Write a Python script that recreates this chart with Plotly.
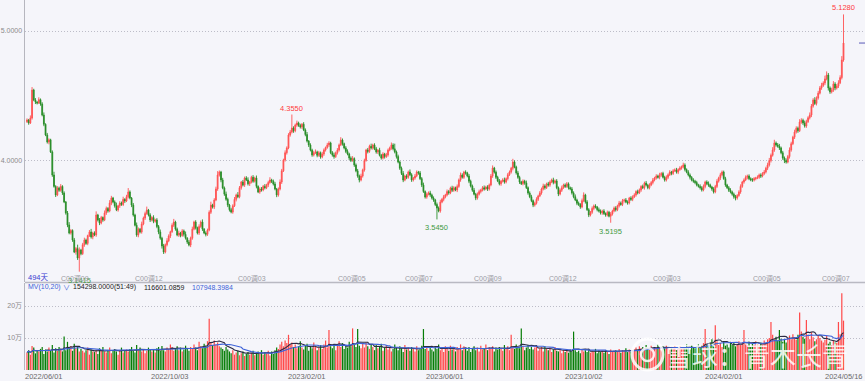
import plotly.graph_objects as go
import pandas as pd

# ---------------- data ----------------
first_open = 4.300
close = [
    4.313,4.290,4.328,4.544,4.467,4.452,4.444,4.470,4.436,4.351,
    4.280,4.197,4.143,4.160,4.066,3.888,3.800,3.734,3.788,3.770,
    3.800,3.749,3.680,3.595,3.502,3.440,3.460,3.386,3.293,3.320,
    3.247,3.309,3.280,3.350,3.386,3.360,3.420,3.448,3.410,3.440,
    3.425,3.579,3.540,3.517,3.560,3.540,3.595,3.630,3.610,3.672,
    3.710,3.680,3.650,3.618,3.650,3.672,3.660,3.700,3.687,3.720,
    3.757,3.710,3.656,3.579,3.500,3.425,3.470,3.448,3.510,3.556,
    3.590,3.618,3.580,3.541,3.560,3.530,3.541,3.490,3.448,3.400,
    3.340,3.293,3.350,3.380,3.417,3.450,3.500,3.525,3.470,3.425,
    3.440,3.420,3.456,3.430,3.400,3.370,3.347,3.400,3.470,3.525,
    3.480,3.440,3.490,3.525,3.470,3.440,3.430,3.463,3.600,3.656,
    3.640,3.695,3.780,3.888,3.911,3.850,3.788,3.740,3.700,3.656,
    3.620,3.602,3.650,3.700,3.734,3.720,3.790,3.834,3.810,3.865,
    3.850,3.820,3.834,3.870,3.840,3.865,3.800,3.757,3.780,3.772,
    3.800,3.790,3.811,3.830,3.849,3.840,3.819,3.780,3.734,3.780,
    3.834,3.920,4.004,4.060,4.097,4.197,4.220,4.251,4.230,4.274,
    4.290,4.270,4.259,4.280,4.236,4.200,4.150,4.120,4.080,4.043,
    4.060,4.066,4.040,4.060,4.027,4.050,4.081,4.100,4.120,4.135,
    4.060,4.043,4.030,4.060,4.081,4.120,4.158,4.130,4.097,4.070,
    4.050,4.019,4.000,4.015,3.965,3.920,3.880,3.849,3.880,3.927,
    4.000,4.081,4.070,4.110,4.097,4.120,4.090,4.066,4.080,4.040,
    4.019,4.050,4.030,4.043,4.080,4.097,4.120,4.090,4.066,4.030,
    3.988,3.940,3.900,3.849,3.880,3.870,3.911,3.890,3.850,3.865,
    3.880,3.910,3.904,3.860,3.811,3.760,3.718,3.740,3.750,3.734,
    3.710,3.695,3.660,3.633,3.610,3.679,3.700,3.720,3.734,3.760,
    3.750,3.788,3.770,3.790,3.772,3.800,3.850,3.888,3.870,3.910,
    3.904,3.880,3.840,3.803,3.770,3.740,3.710,3.740,3.760,3.772,
    3.790,3.780,3.795,3.780,3.811,3.880,3.942,3.910,3.870,3.842,
    3.820,3.840,3.850,3.834,3.860,3.890,3.911,3.940,3.988,3.950,
    3.904,3.870,3.834,3.820,3.840,3.827,3.790,3.749,3.720,3.690,
    3.656,3.670,3.700,3.726,3.750,3.780,3.803,3.790,3.820,3.810,
    3.834,3.850,3.830,3.842,3.790,3.741,3.770,3.790,3.811,3.800,
    3.820,3.790,3.780,3.750,3.720,3.695,3.670,3.660,3.641,3.690,
    3.734,3.680,3.620,3.579,3.600,3.630,3.649,3.640,3.620,3.610,
    3.595,3.610,3.590,3.579,3.600,3.570,3.587,3.610,3.633,3.620,
    3.650,3.672,3.660,3.690,3.695,3.680,3.672,3.710,3.700,3.720,
    3.734,3.760,3.750,3.772,3.800,3.790,3.826,3.810,3.790,3.811,
    3.830,3.850,3.865,3.880,3.870,3.888,3.900,3.870,3.849,3.870,
    3.890,3.911,3.900,3.920,3.927,3.910,3.930,3.942,3.950,3.965,
    3.930,3.910,3.888,3.870,3.849,3.840,3.830,3.811,3.800,3.790,
    3.772,3.800,3.834,3.820,3.810,3.795,3.780,3.757,3.800,3.840,
    3.865,3.890,3.911,3.860,3.811,3.790,3.770,3.757,3.740,3.720,
    3.710,3.730,3.757,3.800,3.834,3.850,3.870,3.880,3.860,3.850,
    3.849,3.860,3.865,3.870,3.888,3.880,3.900,3.911,3.940,3.965,
    4.000,4.040,4.081,4.135,4.120,4.110,4.097,4.060,4.019,4.000,
    3.988,4.030,4.081,4.130,4.180,4.220,4.250,4.230,4.297,4.310,
    4.290,4.266,4.300,4.330,4.351,4.420,4.467,4.440,4.483,4.520,
    4.560,4.580,4.598,4.630,4.660,4.560,4.530,4.544,4.591,4.560,
    4.575,4.600,4.640,4.776,4.907,
]
# upper / lower shadow lengths, in thousandths of price
wick_up = [
    12,8,20,23,10,15,6,18,9,14,20,7,16,11,8,12,25,9,14,10,
    18,9,13,7,15,22,10,8,16,12,30,20,9,14,18,11,7,15,24,10,
    13,28,9,16,12,8,19,14,10,22,17,9,12,25,8,14,11,20,9,15,
    30,12,8,16,10,21,13,9,18,11,15,26,8,13,10,17,9,14,12,19,
    11,16,9,20,13,8,15,24,10,12,18,9,14,11,22,8,16,12,19,10,
    14,9,17,12,20,8,13,11,15,26,10,14,18,30,12,9,16,11,20,13,
    9,15,12,18,10,22,13,8,16,11,14,20,9,12,17,10,19,8,13,15,
    11,18,9,14,22,10,13,16,8,12,20,15,10,18,12,14,16,104,13,11,
    18,10,14,9,16,12,20,8,13,11,15,19,10,14,9,17,12,8,16,14,
    10,13,18,9,15,11,22,12,8,14,16,10,13,19,9,12,15,11,18,10,
    14,9,16,12,20,10,13,15,8,18,11,14,9,16,12,10,19,13,40,11,
    15,10,13,18,9,14,11,20,12,8,16,13,10,15,12,18,9,14,11,16,
    10,13,9,15,12,18,11,14,9,16,13,10,17,12,8,15,11,19,13,10,
    14,9,16,12,11,18,10,13,15,9,12,17,10,14,11,16,20,9,13,12,
    15,10,13,18,9,14,12,11,25,13,10,16,12,9,14,11,18,10,13,15,
    9,12,16,10,14,11,18,13,9,15,12,10,17,11,14,9,13,16,10,12,
    14,11,9,15,12,18,10,13,11,16,20,9,14,12,10,15,11,13,9,16,
    12,10,14,9,13,11,15,10,12,14,9,16,11,13,10,15,12,9,14,11,
    13,10,15,12,9,14,11,16,10,13,12,15,9,14,11,17,10,13,12,15,
    11,14,9,13,12,16,10,14,11,18,13,9,15,12,10,14,11,13,9,16,
    12,15,10,13,18,11,9,14,12,16,10,15,12,11,14,9,13,16,10,12,
    14,10,13,16,9,12,15,11,13,10,14,12,9,15,11,13,10,16,12,18,
    20,14,22,25,12,15,18,10,14,12,16,13,20,15,11,18,14,12,22,16,
    13,18,15,12,20,16,14,22,12,18,15,20,14,25,28,16,12,18,22,14,
    16,20,18,30,221,
]
wick_dn = [
    10,14,8,12,9,16,11,7,13,10,15,9,12,18,8,14,10,16,9,12,
    11,15,9,13,17,10,12,14,8,20,15,105.5,12,9,16,11,14,10,13,18,
    9,14,11,16,10,13,8,15,12,10,17,11,14,9,13,16,10,12,15,8,
    13,10,16,12,9,14,18,11,13,10,15,9,12,16,11,14,10,13,17,12,
    20,15,10,13,11,16,9,14,12,10,15,13,9,17,11,14,10,16,12,9,
    13,11,15,10,14,9,16,12,10,13,11,15,9,14,12,18,10,13,11,16,
    14,10,13,9,16,11,12,15,10,14,9,13,17,11,12,10,15,9,14,12,
    10,13,11,16,9,14,12,10,17,13,11,15,9,12,14,10,13,11,16,12,
    14,10,12,15,9,13,11,16,10,14,12,9,15,11,13,10,14,12,9,15,
    11,13,16,10,14,12,9,15,11,13,10,16,12,9,14,11,13,18,10,12,
    13,9,15,11,12,14,10,13,16,9,12,11,15,10,13,9,14,12,11,15,
    10,13,12,16,9,14,11,10,15,12,13,9,14,11,16,10,12,13,9,15,
    11,14,12,88,10,13,9,15,12,11,14,10,13,12,9,16,11,14,10,12,
    13,10,15,11,12,9,16,12,10,14,11,13,9,15,12,10,14,11,13,9,
    12,15,10,13,11,14,9,12,16,10,13,11,15,9,12,14,10,13,11,12,
    16,12,10,13,9,14,11,15,10,12,13,9,14,11,12,16,10,13,9,12,
    11,14,10,13,12,9,15,11,14,10,12,13,9,16,11,12,14,10,13,11,
    12,14,10,13,11,9,50.5,12,10,14,11,13,9,12,15,10,13,11,12,14,
    10,13,12,9,14,11,15,10,12,13,9,14,11,12,10,15,13,9,12,11,
    13,10,14,12,9,11,15,10,13,12,14,9,11,16,10,12,13,11,9,14,
    12,10,15,11,13,9,14,12,10,13,11,16,12,9,14,10,13,11,12,15,
    18,12,10,14,11,13,9,15,12,10,14,11,13,9,12,15,10,13,11,14,
    12,15,10,14,13,11,16,12,14,20,12,10,15,13,11,14,12,16,10,13,
    15,12,14,10,13,16,12,11,15,13,10,14,12,16,11,20,15,12,14,18,
    12,15,10,14,13,
]
# volume, in thousands of lots
volume_k = [
    55,62,48,75,70,52,60,58,66,72,50,64,58,70,62,78,55,68,60,72,
    65,58,105,62,88,70,75,60,82,68,72,58,66,60,55,62,70,48,64,58,
    56,62,50,68,60,72,58,55,63,70,52,60,66,58,48,62,70,55,60,64,
    58,66,72,60,55,78,62,70,58,64,52,60,70,66,58,62,55,68,72,60,
    75,62,58,70,66,80,72,60,68,74,62,70,58,64,76,68,60,72,66,80,
    70,62,88,74,68,82,76,90,160,85,78,92,80,86,74,70,66,60,72,64,
    58,52,62,48,55,60,46,52,58,44,50,56,48,54,60,46,52,58,50,62,
    48,56,52,60,45,58,50,62,70,66,80,88,74,92,84,110,78,86,72,80,
    68,74,90,70,64,76,82,60,72,68,86,74,62,70,78,66,80,92,70,125,
    74,68,80,62,76,90,72,84,66,78,70,88,74,130,80,72,128,76,68,82,
    70,86,74,66,80,72,62,78,68,74,82,60,70,76,64,72,58,66,80,70,
    62,74,68,56,78,64,70,60,72,66,58,74,62,68,76,128,66,72,60,70,
    64,58,72,66,80,62,70,56,74,68,60,76,64,70,58,72,66,80,62,74,
    68,60,72,56,66,74,62,70,58,76,64,68,80,62,72,66,74,58,70,64,
    72,66,60,78,68,74,62,110,70,66,80,72,68,130,74,62,70,78,66,72,
    64,70,76,60,68,72,58,74,66,62,70,56,64,72,60,58,66,52,62,56,
    60,54,64,58,120,62,56,60,52,66,58,62,56,64,54,60,58,66,52,62,
    56,60,54,62,58,50,64,56,60,62,58,66,54,62,60,68,56,64,58,62,
    66,70,60,74,68,72,62,78,70,64,76,68,72,66,80,70,62,74,68,76,
    70,64,72,68,76,62,70,74,66,72,68,80,70,64,76,72,68,74,80,72,
    76,84,128,80,74,86,96,82,140,90,78,84,72,88,76,80,70,86,78,84,
    74,82,90,78,86,125,80,76,88,72,84,78,90,82,76,86,80,92,84,96,
    100,150,110,96,104,92,125,98,88,94,86,100,108,96,112,100,94,110,180,120,
    104,98,156,110,96,118,102,90,96,108,100,92,86,94,107,82,88,78,92,86,
    84,150,112,240,154.298,
]
date_ticks = [10, 85, 166, 248, 330, 413, 484]
date_labels = ["2022/06/01", "2022/10/03", "2023/02/01", "2023/06/01",
               "2023/10/02", "2024/02/01", "2024/05/16"]
roll_bars = [19, 63, 124, 183, 223, 264, 308, 370, 429, 470]
roll_labels = ["C00调09", "C00调12", "C00调03", "C00调05", "C00调07",
               "C00调09", "C00调12", "C00调03", "C00调05", "C00调07"]
high_marks = [157, 484]
low_marks = [31, 243, 346]
price_ticks = [4.0, 5.0]
vol_ticks = [100000, 200000]
vol_tick_labels = ["10万", "20万"]
header_parts = ["MV(10,20)", "∨", "154298.0000(51:49)", "116601.0859", "107948.3984"]

# ---------------- derived ----------------
N = len(close)
idx = list(range(N))
opens = [first_open] + close[:-1]
highs = [max(o, c) + w / 1000 for o, c, w in zip(opens, close, wick_up)]
lows = [min(o, c) - w / 1000 for o, c, w in zip(opens, close, wick_dn)]
vol = [v * 1000 for v in volume_k]
RED, GREEN = "#ff4a4a", "#067d06"
vcol = [RED if c >= o else GREEN for o, c in zip(opens, close)]
ma10 = pd.Series(vol).rolling(10, min_periods=1).mean()
ma20 = pd.Series(vol).rolling(20, min_periods=1).mean()

W, H = 865, 381
ML, MB = 25, 11
PW, PH = W - ML, H - MB          # plot area 840 x 370
def px_x(px):
    return (px - ML) / PW
def px_y(py):
    return (PH - py) / PH

FONT = "Liberation Sans, Arial, Noto Sans CJK SC"

fig = go.Figure()
fig.add_trace(go.Candlestick(
    x=idx, open=opens, high=highs, low=lows, close=close,
    increasing=dict(line=dict(color="#ff5252", width=0.9), fillcolor="#ff4444"),
    decreasing=dict(line=dict(color="#2a8f2a", width=0.9), fillcolor="#007000"),
    whiskerwidth=0, hoverinfo="skip", showlegend=False,
    xaxis="x", yaxis="y"))
fig.add_trace(go.Bar(
    x=idx, y=vol, marker=dict(color=vcol, line=dict(width=0)), width=0.72,
    hoverinfo="skip", showlegend=False, xaxis="x", yaxis="y2"))
fig.add_trace(go.Scatter(x=idx, y=ma10, mode="lines",
    line=dict(color="#2b2b44", width=1.1), hoverinfo="skip",
    showlegend=False, xaxis="x", yaxis="y2"))
fig.add_trace(go.Scatter(x=idx, y=ma20, mode="lines",
    line=dict(color="#3f63d8", width=1.1), hoverinfo="skip",
    showlegend=False, xaxis="x", yaxis="y2"))

pitch = (843.5 - 27) / (N - 1)
x0 = 0 - (27 - ML) / pitch
x1 = (N - 1) + (W - 843.5) / pitch

# price scale: 5.0 at px 31, 4.0 at px 160.5
ppu = 129.5
p_top = 5.0 + 31 / ppu
p_bot = 4.0 - (282 - 160.5) / ppu
vol_top = (370 - 283) / 32 * 100000

annotations = []
for i in high_marks:
    annotations.append(dict(x=i, y=highs[i], xref="x", yref="y",
        text=f"{highs[i]:.4f}", showarrow=False, yanchor="bottom", yshift=0,
        font=dict(size=7.5, color="#ff3c3c", family=FONT)))
for i in low_marks:
    annotations.append(dict(x=i, y=lows[i], xref="x", yref="y",
        text=f"{lows[i]:.4f}", showarrow=False, yanchor="top", yshift=-2,
        font=dict(size=7.5, color="#3f9a3f", family=FONT)))
for b, t in zip(roll_bars, roll_labels):
    annotations.append(dict(x=b, y=px_y(278), xref="x", yref="paper",
        text=t, showarrow=False, xanchor="left", yanchor="middle",
        font=dict(size=7, color="#9a9aa4", family=FONT)))
for tv, tl in zip(date_ticks, date_labels):
    annotations.append(dict(x=tv, y=px_y(376.5), xref="x", yref="paper",
        text=tl, showarrow=False, xanchor="center", yanchor="middle",
        font=dict(size=7.5, color="#6a6a6a", family=FONT)))
annotations.append(dict(x=px_x(26), y=px_y(277), xref="paper", yref="paper",
    text="494天", showarrow=False, xanchor="left", yanchor="middle",
    font=dict(size=7.5, color="#3a3ad0", family=FONT)))
hdr_x = [26, 61, 71, 142, 190]
hdr_c = ["#3d62d8", "#3d62d8", "#222222", "#222222", "#3d62d8"]
for t, hx, hc in zip(header_parts, hdr_x, hdr_c):
    annotations.append(dict(x=px_x(hx), y=px_y(287), xref="paper", yref="paper",
        text=t, showarrow=False, xanchor="left", yanchor="middle",
        font=dict(size=7, color=hc, family=FONT)))
annotations.append(dict(x=px_x(757), y=px_y(354), xref="paper", yref="paper",
    text="雪球：青木长青", showarrow=False, xanchor="center", yanchor="middle",
    font=dict(size=26, color="rgba(255,255,255,0.85)",
              family="Noto Sans CJK SC")))

shapes = [
    dict(type="line", xref="paper", yref="paper", x0=0, x1=1.03,
         y0=px_y(282.5), y1=px_y(282.5), line=dict(color="#b9b9c2", width=1.5)),
    dict(type="line", xref="paper", yref="y", x0=px_x(859), x1=1,
         y0=close[-1], y1=close[-1], line=dict(color="#5a5ab8", width=1)),
    dict(type="circle", xref="paper", yref="paper",
         x0=px_x(632), x1=px_x(663), y0=px_y(370), y1=px_y(339),
         line=dict(color="rgba(255,255,255,0.85)", width=3)),
    dict(type="circle", xref="paper", yref="paper",
         x0=px_x(641), x1=px_x(654), y0=px_y(361), y1=px_y(348),
         line=dict(color="rgba(255,255,255,0.85)", width=2.5)),
]

fig.update_layout(
    template="none",
    width=W, height=H,
    margin=dict(l=ML, r=0, t=0, b=MB),
    paper_bgcolor="#f5f5fa", plot_bgcolor="#f5f5fa",
    font=dict(family=FONT, size=7.5, color="#666"),
    hovermode=False, showlegend=False,
    xaxis=dict(domain=[0, 1], anchor="y2", range=[x0, x1],
               showticklabels=False,
               showgrid=False, zeroline=False, showline=False, ticks="",
               rangeslider=dict(visible=False), automargin=False),
    yaxis=dict(domain=[px_y(282), 1], anchor="x", range=[p_bot, p_top],
               tickvals=price_ticks, ticktext=[f"{v:.4f}" for v in price_ticks],
               tickfont=dict(size=7, color="#8a8a8a"),
               showgrid=True, gridcolor="#bdbdc8", griddash="1px,2px", gridwidth=1,
               zeroline=False, showline=True, linecolor="#b6b6be", linewidth=1.5,
               ticks="", automargin=False),
    yaxis2=dict(domain=[0, px_y(283)], anchor="x", range=[0, vol_top],
                tickvals=vol_ticks, ticktext=vol_tick_labels,
                tickfont=dict(size=7, color="#8a8a8a"),
                showgrid=True, gridcolor="#bdbdc8", griddash="1px,2px", gridwidth=1,
                zeroline=False, showline=True, linecolor="#b6b6be", linewidth=1.5,
                ticks="", automargin=False),
    annotations=annotations, shapes=shapes,
)

fig.write_html(
    "out.html",
    config={"displayModeBar": False, "staticPlot": True},
    post_script="document.body.style.margin='0';document.body.style.padding='0';"
                "document.body.style.background='#f5f5fa';",
)
